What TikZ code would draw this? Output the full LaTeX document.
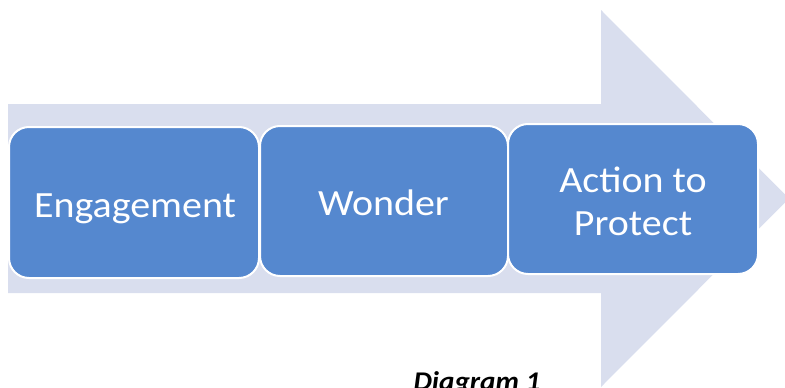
\documentclass[tikz,border=0pt]{standalone}
\usepackage{fontspec}
\setmainfont{Carlito}
\newfontfamily\wideface[FakeStretch=1.08]{Carlito}
\definecolor{arrowfill}{RGB}{217,222,238}
\definecolor{stepfill}{RGB}{85,136,207}
\begin{document}
\begin{tikzpicture}[x=1pt,y=-1pt,
  stagebox/.style={draw=white,line width=2pt,fill=stepfill,rounded corners=20pt,inner sep=0pt},
  stagetext/.style={text=white,font=\wideface\fontsize{37}{43}\selectfont,anchor=base,inner sep=0pt},
  caption/.style={font=\wideface\fontsize{27}{32}\selectfont\bfseries\itshape,anchor=base,inner sep=0pt}]
\useasboundingbox (0,0) rectangle (785,388);
\begin{scope}
\clip (0,0) rectangle (785,388);
% big background arrow
\fill[arrowfill] (8,104) -- (601,104) -- (601,10) -- (789,198.5)
  -- (601,387) -- (601,293) -- (8,293) -- cycle;
\end{scope}
% the three stages
\node[stagebox,minimum width=250pt,minimum height=151pt] (engage) at (134,202.5) {};
\node[stagebox,minimum width=248pt,minimum height=150pt] (wonder) at (384,201) {};
\node[stagebox,minimum width=250pt,minimum height=150pt] (action) at (633,199) {};
\node[stagetext] (engageT) at (135,217) {Engagement};
\node[stagetext] (wonderT) at (383.5,215) {Wonder};
\node[stagetext] (actionT1) at (633,192) {Action to};
\node[stagetext] (actionT2) at (633,235) {Protect};
\node[caption] (cap) at (477,390) {Diagram 1};
\end{tikzpicture}
\end{document}
